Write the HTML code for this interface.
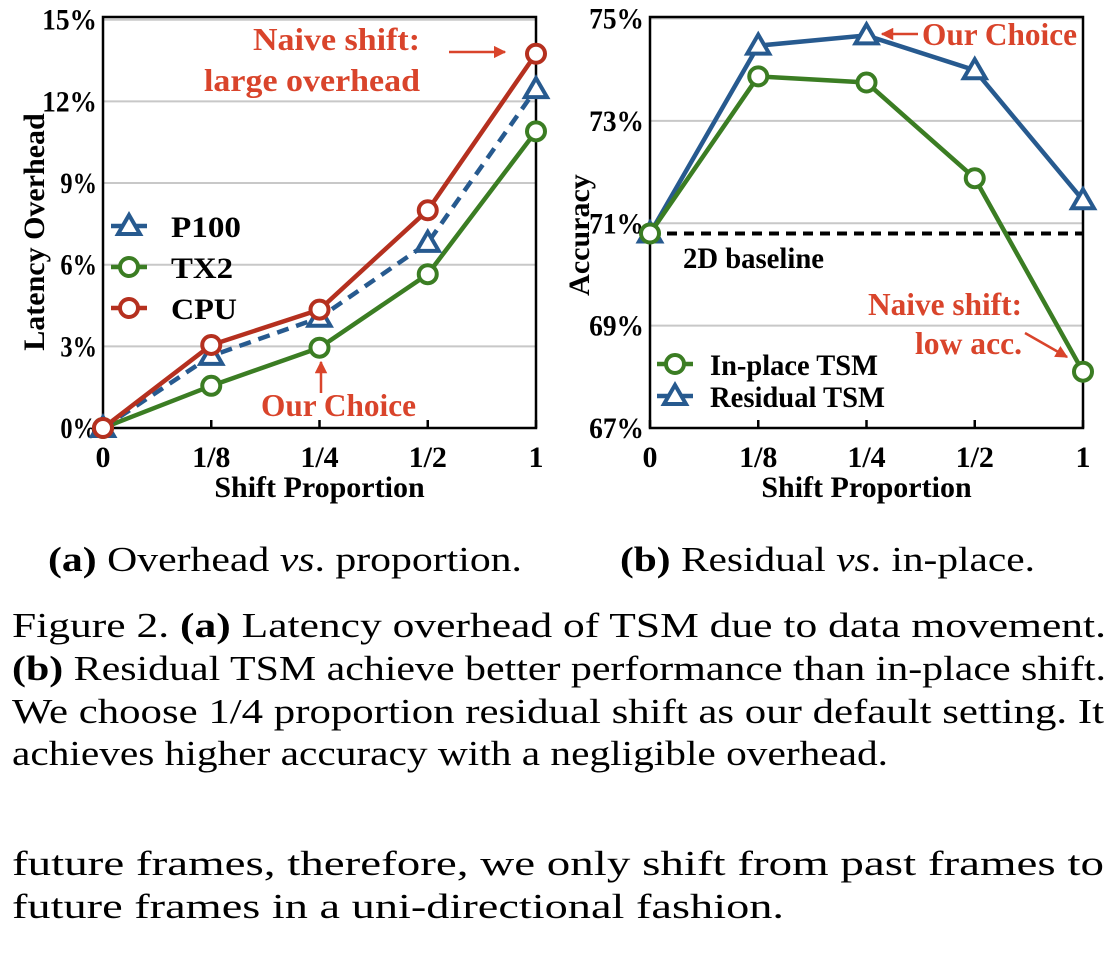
<!DOCTYPE html>
<html><head><meta charset="utf-8"><style>
html,body{margin:0;padding:0;background:#fff;}
svg{display:block;}
.tk{font-family:"Liberation Serif",serif;font-weight:bold;font-size:30px;fill:#000;}
.lg{font-family:"Liberation Serif",serif;font-weight:bold;font-size:30px;fill:#000;}
.an{font-family:"Liberation Serif",serif;font-weight:bold;font-size:32px;fill:#d9442b;}
.cap{font-family:"Liberation Serif",serif;font-size:35px;fill:#000;}
</style></head><body>
<svg id="fig" width="1116" height="958" viewBox="0 0 1116 958" xmlns="http://www.w3.org/2000/svg">
<defs>
<marker id="ah" viewBox="0 0 10 10" refX="9" refY="5" markerWidth="5" markerHeight="5" orient="auto"><path d="M0,0 L10,5 L0,10 z" fill="#d9442b"/></marker>
</defs>
<g id="chartA"></g>
<g id="chartB"></g>

<text class="cap" x="48" y="571" textLength="474" lengthAdjust="spacingAndGlyphs"><tspan font-weight="bold">(a)</tspan> Overhead <tspan font-style="italic">vs</tspan>. proportion.</text>
<text class="cap" x="620" y="571" textLength="415" lengthAdjust="spacingAndGlyphs"><tspan font-weight="bold">(b)</tspan> Residual <tspan font-style="italic">vs</tspan>. in-place.</text>

<g>
<text class="cap" x="12" y="637" textLength="1094" lengthAdjust="spacingAndGlyphs">Figure 2. <tspan font-weight="bold">(a)</tspan> Latency overhead of TSM due to data movement.</text>
<text class="cap" x="12" y="680" textLength="1094" lengthAdjust="spacingAndGlyphs"><tspan font-weight="bold">(b)</tspan> Residual TSM achieve better performance than in-place shift.</text>
<text class="cap" x="12" y="723" textLength="1092" lengthAdjust="spacingAndGlyphs">We choose 1/4 proportion residual shift as our default setting.  It</text>
<text class="cap" x="12" y="765" textLength="876" lengthAdjust="spacingAndGlyphs">achieves higher accuracy with a negligible overhead.</text>
</g>
<g>
<text class="cap" x="12" y="875" textLength="1092" lengthAdjust="spacingAndGlyphs">future frames, therefore, we only shift from past frames to</text>
<text class="cap" x="12" y="918" textLength="772" lengthAdjust="spacingAndGlyphs">future frames in a uni-directional fashion.</text>
</g>
</svg>
<script>
const categories = ["0","1/8","1/4","1/2","1"];
const latP100 = [0, 2.65, 4.05, 6.8, 12.45];
const latTX2 = [0, 1.55, 2.95, 5.65, 10.9];
const latCPU = [0, 3.05, 4.35, 8.0, 13.75];
const latTicks = [0,3,6,9,12,15];
const accInPlace = [70.8, 73.87, 73.75, 71.88, 68.1];
const accResidual = [70.8, 74.47, 74.67, 73.99, 71.45];
const accBaseline = 70.8;
const accTicks = [67,69,71,73,75];

const NS = "http://www.w3.org/2000/svg";
function mk(parent, tag, attrs, text){
  const e = document.createElementNS(NS, tag);
  for (const k in attrs) e.setAttribute(k, attrs[k]);
  if (text !== undefined) e.textContent = text;
  parent.appendChild(e);
  return e;
}
const BLUE="#275a8f", GREEN="#3b7d23", RED="#b5301f";

function axes(g, x0, x1, yTop, yBot, ymin, ymax, ticks, fmt){
  const xs = i => x0 + (x1-x0)*i/(categories.length-1);
  const ys = v => yBot - (v-ymin)/(ymax-ymin)*(yBot-yTop);
  ticks.forEach(t=>{
    if (t!==ymin && t!==ymax){
      const l = mk(g,"line",{x1:x0,x2:x1,y1:ys(t),y2:ys(t),stroke:"#c8c8c8","stroke-width":2});
      
      
    }
    const tl = mk(g,"text",{class:"tk",x:x0-6,y:ys(t)+10,"text-anchor":"end",textLength:fmt(t).length*18.3,lengthAdjust:"spacingAndGlyphs"},fmt(t));
    
    
  });
  const fr = mk(g,"rect",{x:x0,y:yTop,width:x1-x0,height:yBot-yTop,fill:"none",stroke:"#000","stroke-width":2.5});
  
  
  categories.forEach((c,i)=>{
    const tk = mk(g,"line",{x1:xs(i),x2:xs(i),y1:yBot-8,y2:yBot,stroke:"#000","stroke-width":2.5});
    
    
    const tl = mk(g,"text",{class:"tk",x:xs(i),y:yBot+39,"text-anchor":"middle"},c);
    
    
  });
  const xt = mk(g,"text",{class:"tk",x:(x0+x1)/2,y:yBot+69,"text-anchor":"middle","font-size":"29"},"Shift Proportion");
  
  
  return {xs, ys};
}
function series(g, vals, xs, ys, color, marker, dash, name){
  const pts = vals.map((v,i)=>xs(i)+","+ys(v)).join(" ");
  const pl = mk(g,"polyline",{points:pts,fill:"none",stroke:color,"stroke-width":4.5,"stroke-dasharray":dash||"none"});
  
  
  vals.forEach((v,i)=>{
    const m = drawMarker(g, xs(i), ys(v), color, marker);
    
    
  });
}
function drawMarker(g,x,y,color,marker){
  if (marker==="circle") return mk(g,"circle",{cx:x,cy:y,r:9,fill:"#fff",stroke:color,"stroke-width":4});
  return mk(g,"polygon",{points:`${x},${y-11} ${x+11},${y+8} ${x-11},${y+8}`,fill:"#fff",stroke:color,"stroke-width":4,"stroke-linejoin":"miter"});
}
function legend(g,x,y,color,marker,label,tx,tw,name){
  const l = mk(g,"line",{x1:x-18,x2:x+18,y1:y,y2:y,stroke:color,"stroke-width":4.5});
  
  
  const m = drawMarker(g,x,y,color,marker);
  
  
  const t = mk(g,"text",{class:"lg",x:tx,y:y+11,textLength:tw,lengthAdjust:"spacingAndGlyphs"},label);
  
  
}
function ann(g,x,y,w,txt,name){
  const t = mk(g,"text",{class:"an",x:x,y:y,textLength:w,lengthAdjust:"spacingAndGlyphs"},txt);
  
  
}
function arrow(g,x1,y1,x2,y2,name){
  const t = mk(g,"line",{x1:x1,y1:y1,x2:x2,y2:y2,stroke:"#d9442b","stroke-width":2.5,"marker-end":"url(#ah)"});
  
  
}

// Chart A
const gA = document.getElementById("chartA");
const A = axes(gA, 103, 536, 17, 428, 0, 15.1, latTicks, t=>t+"%");
const yta = mk(gA,"text",{class:"tk",transform:"translate(44,232) rotate(-90)","text-anchor":"middle","font-size":"27"},"Latency Overhead");


series(gA, latTX2, A.xs, A.ys, GREEN, "circle", null, "tx2");
series(gA, latP100, A.xs, A.ys, BLUE, "triangle", "12,8", "p100");
series(gA, latCPU, A.xs, A.ys, RED, "circle", null, "cpu");
legend(gA, 129, 226, BLUE, "triangle", "P100", 171, 70, "p100");
legend(gA, 129, 267, GREEN, "circle", "TX2", 171, 62, "tx2");
legend(gA, 129, 308, RED, "circle", "CPU", 171, 66, "cpu");
ann(gA, 253, 50, 167, "Naive shift:", "naive-shift-annotation");
ann(gA, 204, 91, 216, "large overhead", "naive-shift-annotation-line2");
arrow(gA, 449, 52, 505, 52, "naive-shift-arrow");
ann(gA, 261, 416, 155, "Our Choice", "our-choice-annotation");
arrow(gA, 321, 393, 321, 362, "our-choice-arrow");

// Chart B
const gB = document.getElementById("chartB");
const B = axes(gB, 650, 1083, 17, 428, 67, 75.03, accTicks, t=>t+"%");
const ytb = mk(gB,"text",{class:"tk",transform:"translate(589,235) rotate(-90)","text-anchor":"middle","font-size":"27"},"Accuracy");


const bl = mk(gB,"line",{x1:650,x2:1083,y1:B.ys(accBaseline),y2:B.ys(accBaseline),stroke:"#000","stroke-width":4,"stroke-dasharray":"10,7"});


const blt = mk(gB,"text",{class:"tk",x:683,y:268,"font-size":"26",textLength:141,lengthAdjust:"spacingAndGlyphs"},"2D baseline");


series(gB, accResidual, B.xs, B.ys, BLUE, "triangle", null, "residual-tsm");
series(gB, accInPlace, B.xs, B.ys, GREEN, "circle", null, "in-place-tsm");
legend(gB, 675, 364, GREEN, "circle", "In-place TSM", 710, 168, "in-place-tsm");
legend(gB, 675, 396, BLUE, "triangle", "Residual TSM", 710, 175, "residual-tsm");
ann(gB, 922, 45, 155, "Our Choice", "our-choice-annotation");
arrow(gB, 918, 34, 882, 34, "our-choice-arrow");
ann(gB, 868, 315, 154, "Naive shift:", "naive-shift-annotation");
ann(gB, 915, 354, 107, "low acc.", "naive-shift-annotation-line2");
arrow(gB, 1025, 333, 1067, 357, "naive-shift-arrow");
</script>
</body></html>
